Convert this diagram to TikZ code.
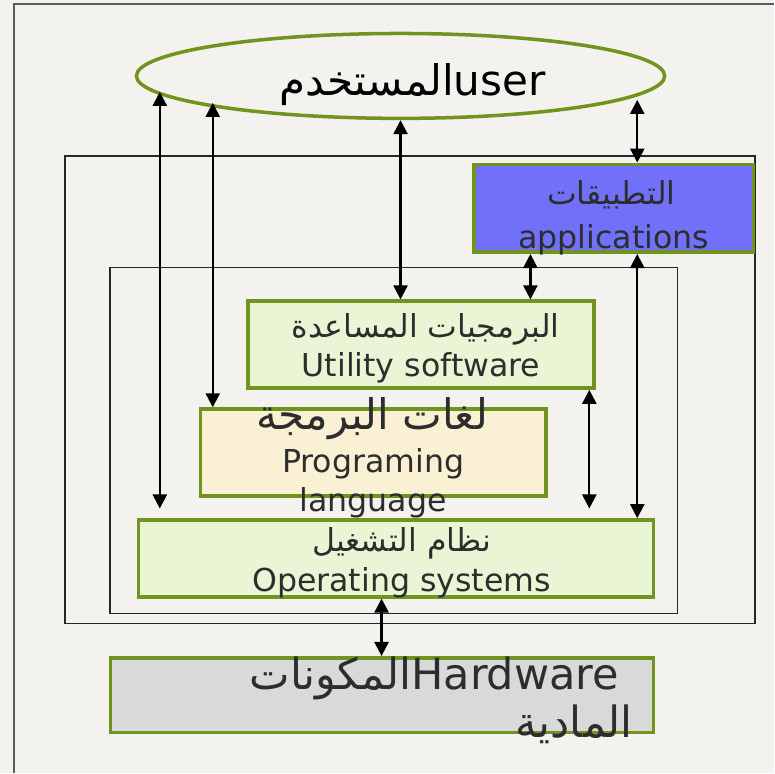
\documentclass[tikz,border=0pt]{standalone}
\usepackage{fontspec}
\setmainfont{DejaVu Sans}
\newfontfamily\arabicfont[Script=Arabic]{DejaVu Sans}
\TeXXeTstate=1
\usetikzlibrary{shapes.geometric,arrows.meta}
\definecolor{paper}{RGB}{244,242,238}
\definecolor{layergreen}{RGB}{112,148,30}
\definecolor{appblue}{RGB}{112,112,248}
\definecolor{utilgreen}{RGB}{234,245,213}
\definecolor{langyellow}{RGB}{250,240,212}
\definecolor{hwgray}{RGB}{217,217,217}
\definecolor{txtgray}{RGB}{45,45,45}
\definecolor{framegray}{RGB}{90,90,90}
\newcommand{\artxt}[1]{{\arabicfont\beginR #1\endR}}

\begin{document}
\begin{tikzpicture}[
    x=0.02cm, y=-0.02cm,
    layer/.style={rectangle, draw=layergreen, line width=2pt},
    lbl/.style={font=\fontsize{18}{22}\selectfont, text=txtgray, inner sep=0, anchor=base},
    biglbl/.style={lbl, font=\fontsize{24}{29}\selectfont},
    dbl/.style={<->, >={Triangle[length=8pt,width=8pt]}, line width=1.3pt, black}
]
    % Background and frame
    \fill[paper] (0,0) rectangle (775,774);
    \draw[framegray, line width=1pt] (14,774) -- (14,4) -- (775,4);
    \draw[black!85, line width=0.8pt] (65,156) rectangle (756,624);
    \draw[black!85, line width=0.8pt] (110,268) rectangle (678,614);

    % User
    \node[ellipse, draw=layergreen, line width=2pt, minimum width=10.58cm, minimum height=1.70cm, inner sep=0] (user) at (401,76) {};
    \node[biglbl, text=black] (usertxt) at (413,96) {\artxt{المستخدم}user};

    % Layers
    \node[layer, fill=appblue, minimum width=5.60cm, minimum height=1.76cm] (apps) at (614.5,208.5) {};
    \node[layer, fill=utilgreen, minimum width=6.92cm, minimum height=1.74cm] (util) at (421.5,345) {};
    \node[layer, fill=langyellow, minimum width=6.92cm, minimum height=1.74cm] (prog) at (373.5,453) {};
    \node[layer, fill=utilgreen, minimum width=10.32cm, minimum height=1.54cm] (os) at (396.5,559) {};
    \node[layer, fill=hwgray, minimum width=10.88cm, minimum height=1.50cm] (hw) at (382.5,696) {};

    % Arrow columns
    \coordinate (colA) at (160,92);
    \coordinate (colB) at (213,103);
    \coordinate (colC) at (638,100);
    \coordinate (colD) at (531,0);
    \coordinate (colE) at (590,0);
    \coordinate (colF) at (382,0);

    \draw[dbl, shorten >=5.5pt] (colA) -- (colA |- os.north);
    \draw[dbl] (colB) -- (colB |- prog.north);
    \draw[dbl] (user.south) -- (user.south |- util.north);
    \draw[dbl] (colC) -- (colC |- apps.north);
    \draw[dbl] (apps.south -| colD) -- (util.north -| colD);
    \draw[dbl] (apps.south -| colC) -- (os.north -| colC);
    \draw[dbl, shorten >=5.5pt] (util.south -| colE) -- (os.north -| colE);
    \draw[dbl] (os.south -| colF) -- (hw.north -| colF);

    % Labels
    \node[lbl] (appsar) at (612,205) {\artxt{التطبيقات}};
    \node[lbl] (appsen) at (614.5,249) {applications};
    \node[lbl] (utilar) at (426,338) {\artxt{البرمجيات المساعدة}};
    \node[lbl] (utilen) at (421.5,377) {Utility software};
    \node[biglbl] (progar) at (372.5,430) {\artxt{لغات البرمجة}};
    \node[lbl] (progen) at (373.5,473) {Programing};
    \node[lbl] (progen2) at (373.5,512) {language};
    \node[lbl] (osar) at (402,552) {\artxt{نظام التشغيل}};
    \node[lbl] (osen) at (402,592) {Operating systems};
    \node[biglbl, font=\fontsize{24.5}{29}\selectfont, anchor=base east] (hwtxt) at (620,690) {\artxt{المكونات}Hardware};
    \node[biglbl, font=\fontsize{24.5}{29}\selectfont, anchor=base east] (hwtxt2) at (634,738) {\artxt{المادية}};
\end{tikzpicture}
\end{document}
